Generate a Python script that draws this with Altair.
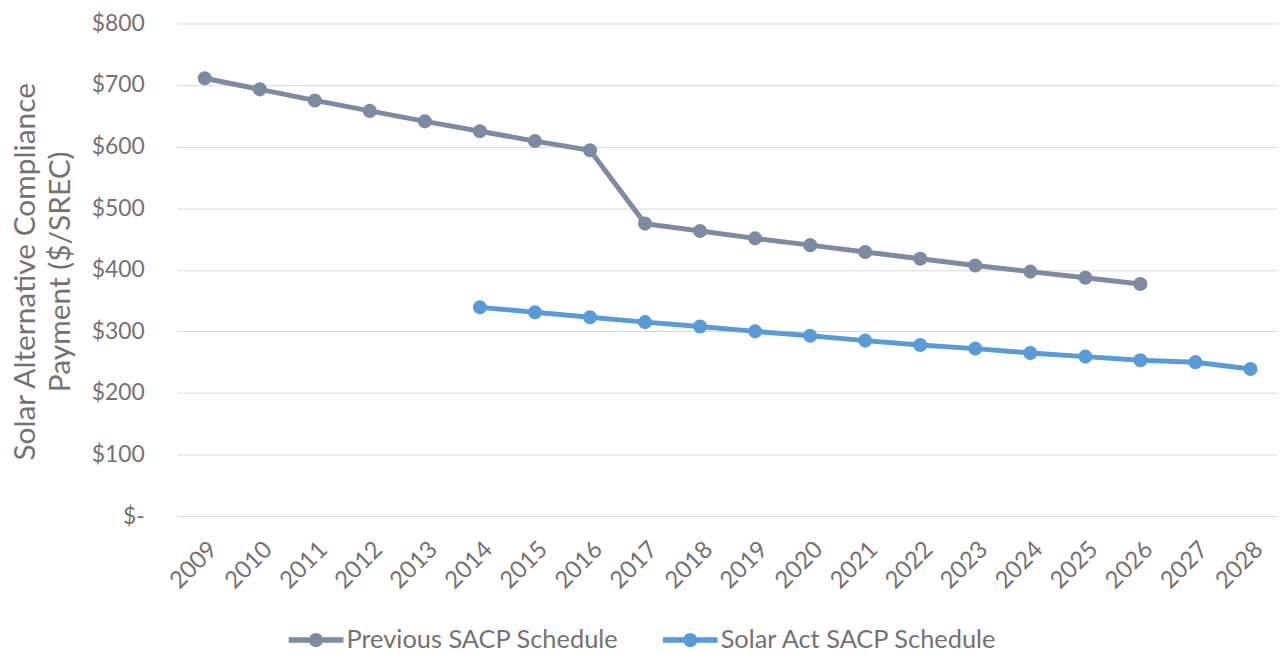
import altair as alt
import pandas as pd

years = [str(y) for y in range(2009, 2029)]
prev_years = [str(y) for y in range(2009, 2027)]
prev_vals = [711, 693, 675, 658, 641, 625, 609, 594, 475, 463, 451, 440, 429, 418, 407, 397, 387, 377]
act_years = [str(y) for y in range(2014, 2029)]
act_vals = [339, 331, 323, 315, 308, 300, 293, 285, 278, 272, 265, 259, 253, 250, 239]

series_names = ["Previous SACP Schedule", "Solar Act SACP Schedule"]
series_colors = ["#7F8AA2", "#5B9BD5"]

rows = [{"year": y, "value": v, "series": series_names[0]} for y, v in zip(prev_years, prev_vals)]
rows += [{"year": y, "value": v, "series": series_names[1]} for y, v in zip(act_years, act_vals)]
df = pd.DataFrame(rows)

FONT = "Lato"
TXT = "#767171"

legend_path = ("M -1 -0.1 L 1 -0.1 L 1 0.1 L -1 0.1 Z "
               "M -0.26 0 A 0.26 0.26 0 1 1 0.26 0 A 0.26 0.26 0 1 1 -0.26 0 Z")

x = alt.X("year:N", scale=alt.Scale(domain=years, paddingInner=0, paddingOuter=0.5),
          axis=alt.Axis(title=None, labelAngle=-45, labelFontSize=24, labelColor=TXT,
                        labelFont=FONT, ticks=False, domain=False, grid=False, labelPadding=21))
y = alt.Y("value:Q", scale=alt.Scale(domain=[0, 800]),
          axis=alt.Axis(values=[0, 100, 200, 300, 400, 500, 600, 700, 800],
                        labelExpr="datum.value == 0 ? '$-' : '$' + datum.value",
                        title=["Solar Alternative Compliance", "Payment ($/SREC)"],
                        titleFontSize=30, titleFontWeight="normal", titleColor=TXT, titleFont=FONT,
                        titleLineHeight=35, titleX=-137, titleY=249, titleAlign="center",
                        titleBaseline="bottom", titleAngle=270,
                        labelFontSize=23, labelColor=TXT, labelFont=FONT, labelPadding=33,
                        ticks=False, domain=False, grid=True, gridColor="#D9D9D9", gridWidth=1))
color = alt.Color("series:N", scale=alt.Scale(domain=series_names, range=series_colors),
                  legend=alt.Legend(title=None, orient="none", direction="horizontal",
                                    legendX=112, legendY=592,
                                    symbolType=legend_path, symbolSize=3025, symbolStrokeWidth=0,
                                    labelFontSize=25.5, labelColor=TXT, labelFont=FONT, labelLimit=500,
                                    columnPadding=44, labelOffset=3))

base = alt.Chart(df)
lines = base.mark_line(strokeWidth=5).encode(x=x, y=y, color=color, detail="series:N")
points = base.mark_circle(size=200, opacity=1).encode(x=x, y=y, color=color)

chart = alt.layer(lines, points).properties(
    width=1106, height=495,
    autosize=alt.AutoSizeParams(type="none"),
    padding={"left": 170, "top": 14, "right": 0, "bottom": 136},
).configure_view(stroke=None)

chart.save("out.html", embed_options={"renderer": "svg", "actions": False})
